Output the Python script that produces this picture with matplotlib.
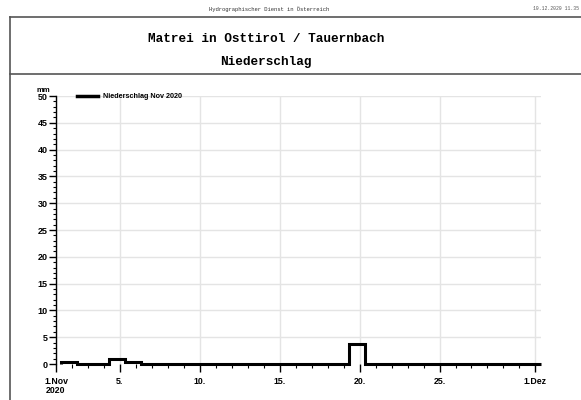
import numpy as np
import matplotlib.pyplot as plt
from matplotlib.lines import Line2D

# daily precipitation (mm), 1.Nov .. 30.Nov 2020; each day's total runs 08:00 to 08:00
niederschlag = [0.3, 0.0, 0.0, 1.0, 0.4, 0.0, 0.0, 0.0, 0.0, 0.0,
                0.0, 0.0, 0.0, 0.0, 0.0, 0.0, 0.0, 0.0, 3.7, 0.0,
                0.0, 0.0, 0.0, 0.0, 0.0, 0.0, 0.0, 0.0, 0.0, 0.0]
tick_days = [0, 4, 9, 14, 19, 24, 30]
tick_labels = ['1.Nov\n2020', '5.', '10.', '15.', '20.', '25.', '1.Dez']
y_ticks = [0, 5, 10, 15, 20, 25, 30, 35, 40, 45, 50]

W, H = 581, 400
fig = plt.figure(figsize=(W / 100, H / 100), dpi=100)

def fx(px):
    return px / W

def fy(py):
    return 1 - py / H

# frame around the title block
frame = '#555555'
fig.add_artist(Line2D([fx(10), 1], [fy(17), fy(17)], color=frame, lw=1.2))
fig.add_artist(Line2D([fx(10), 1], [fy(74), fy(74)], color=frame, lw=1.2))
fig.add_artist(Line2D([fx(10), fx(10)], [fy(17), 0], color=frame, lw=1.2))

fig.text(fx(269), fy(9), 'Hydrographischer Dienst in Österreich', family='Liberation Mono',
         fontsize=4, ha='center', va='center', color='#333333')
fig.text(fx(579), fy(9), '10.12.2020 11.35', family='Liberation Mono',
         fontsize=3.4, ha='right', va='center', color='#555555')
fig.text(fx(266), fy(39), 'Matrei in Osttirol / Tauernbach', family='Liberation Mono',
         fontsize=9.2, weight='bold', ha='center', va='center')
fig.text(fx(266), fy(62), 'Niederschlag', family='Liberation Mono',
         fontsize=9.2, weight='bold', ha='center', va='center')

ax = fig.add_axes([fx(56), fy(364), fx(541) - fx(56), fy(96) - fy(364)])
ax.set_xlim(0, 30.35)
ax.set_ylim(0, 50)

edges = np.arange(len(niederschlag) + 1) + 0.33  # 08:00 of each day
ax.stairs(niederschlag, edges, color='black', lw=2.2, clip_on=False, zorder=3)

for d in tick_days:
    ax.axvline(d, color='#e4e4e4', lw=1, zorder=0)
for v in y_ticks[1:]:
    ax.axhline(v, color='#e4e4e4', lw=1, zorder=0)

for s in ['top', 'right', 'bottom']:
    ax.spines[s].set_visible(False)
ax.spines['left'].set_linewidth(1.0)

ax.set_yticks(y_ticks)
ax.set_yticks(np.arange(0, 51, 1), minor=True)
ax.set_xticks(tick_days)
ax.set_xticklabels(tick_labels)
ax.set_xticks(np.arange(0, 31, 1), minor=True)
ax.tick_params(axis='y', which='major', length=5, width=1, labelsize=6.5, pad=1)
ax.tick_params(axis='y', which='minor', length=2.5, width=0.8)
ax.tick_params(axis='x', which='major', length=6, width=1, labelsize=6.3, pad=3)
ax.tick_params(axis='x', which='minor', length=3, width=0.8)
for lab in ax.get_xticklabels() + ax.get_yticklabels():
    lab.set_family('Liberation Sans')
    lab.set_weight('bold')
    lab.set_linespacing(1.05)

fig.text(fx(43), fy(90), 'mm', family='Liberation Sans', weight='bold',
         fontsize=5.5, ha='center', va='center')

# legend
fig.add_artist(Line2D([fx(77), fx(98)], [fy(96), fy(96)], color='black', lw=2.5))
fig.text(fx(103), fy(96), 'Niederschlag Nov 2020', family='Liberation Sans',
         weight='bold', fontsize=5.2, ha='left', va='center')

fig.savefig('out.png', dpi=100)
